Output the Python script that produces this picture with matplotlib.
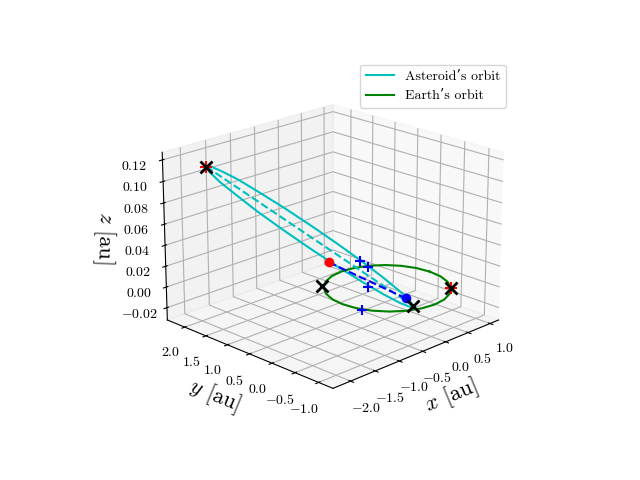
import numpy as np
import matplotlib
matplotlib.use('Agg')
import matplotlib.pyplot as plt

plt.rcParams['font.family'] = ['cmr10', 'DejaVu Serif']
plt.rcParams['mathtext.fontset'] = 'cm'
plt.rcParams['axes.formatter.use_mathtext'] = True

ast_x = [-2.11,-1.989,-1.816,-1.604,-1.365,-1.116,-.875,-.658,-.479,-.352,-.284,-.279,-.34,-.461,-.634,-.846,-1.085,-1.334,-1.575,-1.792,-1.971,-2.098,-2.166,-2.171,-2.11]
ast_y = [1.687,1.739,1.697,1.565,1.353,1.073,.746,.393,.039,-.292,-.578,-.798,-.939,-.991,-.949,-.817,-.605,-.326,.002,.355,.709,1.039,1.325,1.545,1.687]
ast_z = [.12,.118,.112,.103,.0905,.0763,.061,.0457,.0315,.0193,.0099,.004,.002,.004,.0099,.0193,.0315,.0457,.061,.0763,.0905,.103,.112,.118,.12]

earth_x = [.935,.903,.808,.657,.46,.231,-.015,-.261,-.49,-.687,-.838,-.933,-.965,-.933,-.838,-.687,-.49,-.261,-.015,.231,.46,.657,.808,.903,.935]
earth_y = [-.062,.199,.443,.652,.813,.914,.948,.914,.813,.652,.443,.199,-.062,-.323,-.567,-.776,-.937,-1.038,-1.072,-1.038,-.937,-.776,-.567,-.323,-.062]
earth_z = [0]*25

major_x = [-2.11,-.34]; major_y = [1.687,-.939]; major_z = [.12,.002]
node_x = [-1.409,-.35]; node_y = [-.227,-.79]; node_z = [.049,.007]
red_dot = ([-1.409],[-.227],[.049])
blue_dot = ([-.35],[-.79],[.007])
red_x = [-2.11,.665]; red_y = [1.687,-.78]; red_z = [.12,0]
black_x = [-2.11,-.677,-.34,.665]; black_y = [1.687,.705,-.939,-.78]; black_z = [.12,0,.002,0]
plus_x = [-.487,-.436,-1.024,-.924]; plus_y = [.058,-.063,-.666,-.43]; plus_z = [.031,.027,.027,0]
xt = [-2.0,-1.5,-1.0,-.5,0,.5,1.0]
yt = [-1.0,-.5,0,.5,1.0,1.5,2.0]
zt = [-.02,0,.02,.04,.06,.08,.10,.12]

fig = plt.figure(figsize=(6.4,4.8), dpi=100)
ax = fig.add_subplot(projection='3d')
ax.view_init(elev=20, azim=-135)
l1, = ax.plot(ast_x, ast_y, ast_z, color='c', label="Asteroid\u2019s orbit")
l2, = ax.plot(earth_x, earth_y, earth_z, color='g', label="Earth\u2019s orbit")
ax.plot(major_x, major_y, major_z, 'c--')
ax.plot(node_x, node_y, node_z, 'b--')
ax.scatter(*red_dot, color='r', s=35, depthshade=False)
ax.scatter(*blue_dot, color='b', s=35, depthshade=False)
ax.scatter(red_x, red_y, red_z, color='r', marker='+', s=70, linewidths=1.5, depthshade=False)
ax.scatter(black_x, black_y, black_z, color='k', marker='x', s=75, linewidths=2, depthshade=False)
ax.scatter(plus_x, plus_y, plus_z, color='b', marker='+', s=60, linewidths=1.5, depthshade=False)
ax.set_xlim(-2.35,1.2); ax.set_ylim(-1.3,2.42); ax.set_zlim(-.032,.127)
ax.set_xticks(xt); ax.set_yticks(yt); ax.set_zticks(zt)
ax.set_xticklabels([f'${v:.1f}$' for v in xt])
ax.set_yticklabels([f'${v:.1f}$' for v in yt])
ax.set_zticklabels([f'${v:.2f}$' for v in zt])
ax.set_xlabel('$x$ [au]', fontsize=16)
ax.set_ylabel('$y$ [au]', fontsize=16)
ax.zaxis.set_rotate_label(False)
ax.set_zlabel('$z$ [au]', fontsize=16, rotation=-92)
ax.legend(handles=[l1,l2], loc='upper right')
fig.savefig('out.png', dpi=100)
